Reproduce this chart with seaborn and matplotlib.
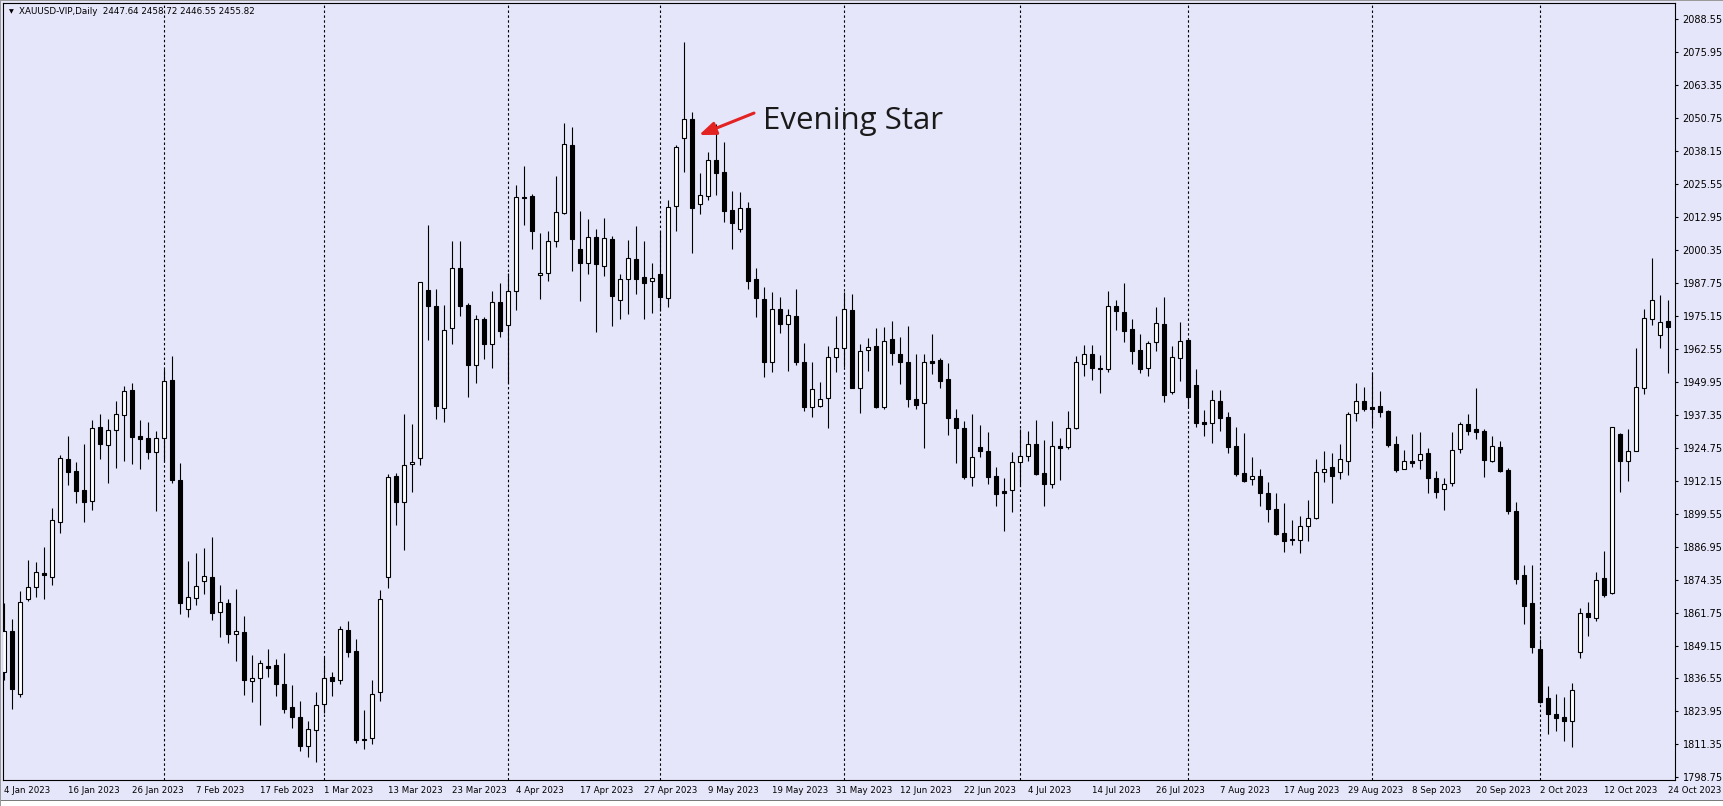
import numpy as np
import pandas as pd
import matplotlib
matplotlib.use("Agg")
import matplotlib.pyplot as plt
from matplotlib.patches import Rectangle
import seaborn as sns

# daily XAUUSD candles, 4 Jan 2023 - 24 Oct 2023
opens = [
    1839.2, 1854.7, 1830.5, 1866.8, 1871.4, 1876.7, 1875.2, 1896.2, 1920.3, 1915.8,
    1908.6, 1904.5, 1932.5, 1925.7, 1931.4, 1937.1, 1946.7, 1929.1, 1928.3, 1923.0,
    1928.3, 1950.5, 1912.4, 1863.0, 1867.2, 1873.7, 1875.2, 1862.1, 1865.3, 1853.4,
    1854.2, 1835.7, 1836.6, 1841.2, 1841.7, 1834.5, 1825.5, 1821.7, 1810.6, 1816.7,
    1826.7, 1837.0, 1835.8, 1855.0, 1847.1, 1813.6, 1813.7, 1831.4, 1875.3, 1913.8,
    1904.1, 1918.4, 1920.8, 1985.0, 1978.8, 1939.8, 1970.4, 1993.3, 1979.3, 1956.5,
    1973.9, 1964.2, 1980.3, 1971.5, 1984.5, 2020.4, 2020.9, 1990.6, 1991.4, 2003.6,
    2014.6, 2040.3, 2000.7, 1995.2, 2005.1, 1994.0, 2004.4, 1981.2, 1989.1, 1996.7,
    1989.8, 1988.3, 1991.0, 1981.8, 2017.2, 2043.0, 2050.2, 2017.7, 2021.1, 2034.6,
    2030.1, 2015.6, 2008.2, 2016.2, 1989.1, 1981.6, 1957.6, 1977.6, 1971.9, 1975.0,
    1957.4, 1940.4, 1940.8, 1943.6, 1959.3, 1962.7, 1977.2, 1947.4, 1962.0, 1963.5,
    1940.4, 1966.2, 1960.4, 1957.4, 1943.2, 1941.7, 1957.7, 1958.3, 1951.0, 1936.0,
    1932.3, 1913.7, 1924.9, 1923.5, 1913.9, 1908.1, 1908.4, 1919.2, 1921.4, 1926.0,
    1914.9, 1911.0, 1925.2, 1925.0, 1932.2, 1956.9, 1960.4, 1955.0, 1954.7, 1978.9,
    1976.6, 1970.0, 1962.1, 1955.1, 1965.0, 1972.0, 1946.1, 1958.9, 1965.9, 1948.7,
    1934.7, 1934.0, 1942.6, 1936.6, 1925.4, 1915.1, 1912.6, 1913.8, 1907.3, 1901.3,
    1892.0, 1890.0, 1889.5, 1894.7, 1897.7, 1915.3, 1917.2, 1915.6, 1919.8, 1937.9,
    1942.4, 1940.2, 1940.5, 1938.8, 1926.0, 1916.7, 1919.5, 1919.9, 1922.9, 1913.0,
    1908.8, 1911.1, 1924.1, 1933.7, 1931.9, 1931.1, 1919.8, 1925.1, 1916.2, 1900.5,
    1876.1, 1865.4, 1847.8, 1829.0, 1823.0, 1821.7, 1820.4, 1846.5, 1861.4, 1859.8,
    1874.8, 1869.1, 1930.0, 1919.8, 1923.6, 1947.4, 1973.8, 1967.7, 1973.1]

highs = [
    1865.3, 1859.2, 1870.1, 1881.8, 1881.1, 1886.8, 1901.6, 1922.0, 1929.1, 1919.2,
    1926.2, 1935.3, 1937.6, 1935.7, 1942.6, 1948.3, 1949.5, 1935.3, 1934.6, 1931.1,
    1954.7, 1959.9, 1918.8, 1881.5, 1884.5, 1886.3, 1890.6, 1872.2, 1866.9, 1870.8,
    1860.4, 1845.5, 1843.6, 1847.8, 1843.9, 1846.3, 1834.1, 1828.0, 1820.3, 1831.5,
    1844.6, 1839.0, 1856.6, 1858.5, 1851.5, 1824.6, 1835.8, 1870.2, 1914.5, 1915.0,
    1937.6, 1933.8, 1988.2, 2009.8, 1985.4, 1979.3, 2003.6, 2003.6, 1979.9, 1975.5,
    1974.7, 1984.7, 1987.6, 1991.4, 2025.2, 2032.4, 2021.7, 2006.8, 2007.6, 2028.7,
    2048.7, 2047.4, 2015.2, 2012.1, 2008.2, 2012.5, 2005.6, 1991.0, 2004.1, 2009.4,
    2003.7, 1995.3, 2007.6, 2019.3, 2040.4, 2079.9, 2053.2, 2029.6, 2037.6, 2048.3,
    2041.4, 2022.8, 2022.3, 2018.5, 1993.3, 1986.0, 1984.3, 1982.5, 1977.8, 1985.4,
    1964.6, 1957.4, 1949.9, 1963.5, 1975.1, 1984.4, 1983.5, 1964.3, 1966.5, 1970.4,
    1970.8, 1973.2, 1966.9, 1971.3, 1960.4, 1960.4, 1968.2, 1958.9, 1957.1, 1939.5,
    1935.0, 1937.6, 1933.4, 1930.9, 1917.5, 1913.0, 1923.0, 1931.9, 1931.2, 1935.3,
    1927.8, 1935.1, 1928.4, 1938.9, 1959.8, 1964.0, 1964.0, 1960.2, 1984.6, 1981.2,
    1987.5, 1973.8, 1968.0, 1965.6, 1978.5, 1982.3, 1963.6, 1972.8, 1966.3, 1954.8,
    1939.1, 1946.8, 1946.8, 1938.3, 1932.8, 1930.2, 1921.0, 1916.5, 1911.5, 1907.3,
    1903.5, 1897.0, 1898.7, 1904.7, 1920.4, 1923.5, 1922.8, 1926.2, 1938.5, 1949.5,
    1947.8, 1953.1, 1946.3, 1939.0, 1929.2, 1923.8, 1929.9, 1930.7, 1924.5, 1915.8,
    1913.0, 1930.7, 1934.4, 1937.6, 1947.5, 1931.7, 1929.2, 1927.3, 1916.9, 1904.0,
    1879.9, 1879.9, 1851.5, 1833.7, 1830.6, 1829.6, 1834.8, 1863.4, 1865.8, 1877.1,
    1885.3, 1932.5, 1930.4, 1931.8, 1963.0, 1977.7, 1997.3, 1983.1, 1981.2]

lows = [
    1836.0, 1825.0, 1829.5, 1866.3, 1867.8, 1867.1, 1872.3, 1892.3, 1910.5, 1903.7,
    1896.5, 1900.9, 1920.4, 1911.4, 1917.1, 1919.8, 1918.6, 1916.7, 1920.6, 1900.7,
    1919.4, 1911.4, 1861.2, 1860.2, 1864.6, 1868.8, 1858.9, 1852.5, 1850.2, 1843.4,
    1830.4, 1827.7, 1818.8, 1837.3, 1830.0, 1823.5, 1817.5, 1809.0, 1806.4, 1804.8,
    1823.2, 1830.0, 1834.5, 1844.9, 1812.0, 1809.5, 1811.7, 1827.8, 1871.2, 1895.3,
    1885.5, 1907.8, 1918.3, 1965.7, 1935.7, 1934.4, 1964.5, 1975.2, 1944.0, 1949.4,
    1958.8, 1955.3, 1967.0, 1949.4, 1977.2, 2010.0, 2000.8, 1981.7, 1988.6, 2001.3,
    2014.0, 1992.4, 1980.9, 1991.2, 1969.1, 1990.5, 1971.4, 1974.0, 1976.0, 1983.3,
    1974.0, 1976.1, 1977.0, 1978.4, 2007.6, 2030.1, 1999.3, 2014.2, 2019.4, 2021.3,
    2011.1, 2000.8, 2007.3, 1985.4, 1974.8, 1951.9, 1953.8, 1968.7, 1954.2, 1956.4,
    1938.9, 1936.6, 1940.1, 1932.2, 1953.6, 1955.7, 1947.4, 1938.1, 1954.2, 1939.8,
    1939.7, 1956.4, 1949.1, 1940.1, 1939.5, 1924.7, 1952.9, 1947.7, 1929.6, 1919.0,
    1912.7, 1910.2, 1921.2, 1910.9, 1902.6, 1892.9, 1900.3, 1910.2, 1919.8, 1914.2,
    1902.6, 1909.5, 1912.4, 1924.2, 1931.9, 1952.1, 1950.6, 1945.8, 1953.8, 1969.7,
    1965.2, 1956.7, 1953.4, 1952.1, 1961.7, 1942.3, 1945.3, 1950.2, 1940.4, 1932.8,
    1929.3, 1926.7, 1931.2, 1922.8, 1914.0, 1911.8, 1910.5, 1902.4, 1896.5, 1891.4,
    1885.0, 1887.5, 1884.6, 1889.2, 1897.4, 1911.8, 1903.7, 1912.9, 1914.3, 1935.1,
    1938.9, 1933.2, 1936.6, 1925.1, 1915.3, 1916.5, 1917.2, 1916.6, 1907.5, 1905.6,
    1901.0, 1910.1, 1922.6, 1929.7, 1928.0, 1913.7, 1919.4, 1915.3, 1899.3, 1872.5,
    1857.5, 1846.2, 1827.0, 1815.2, 1816.6, 1812.8, 1810.5, 1844.2, 1852.8, 1858.6,
    1867.8, 1868.7, 1907.9, 1912.0, 1923.3, 1945.1, 1971.6, 1963.0, 1953.4]

closes = [
    1854.7, 1832.5, 1865.9, 1871.6, 1877.1, 1876.0, 1897.0, 1920.7, 1915.6, 1908.3,
    1904.1, 1932.1, 1926.3, 1931.4, 1937.5, 1946.3, 1929.0, 1928.2, 1923.2, 1928.3,
    1950.1, 1912.4, 1865.5, 1867.6, 1871.8, 1875.6, 1861.7, 1865.7, 1853.6, 1854.6,
    1836.1, 1836.6, 1842.5, 1840.7, 1834.6, 1824.9, 1822.0, 1810.9, 1817.1, 1826.3,
    1836.6, 1835.7, 1855.4, 1846.8, 1813.1, 1813.1, 1830.8, 1867.1, 1913.5, 1904.1,
    1918.3, 1919.2, 1987.9, 1978.8, 1940.5, 1969.6, 1993.3, 1978.8, 1956.2, 1973.9,
    1964.5, 1980.3, 1969.2, 1984.5, 2020.5, 2020.3, 2007.7, 1991.4, 2003.6, 2014.7,
    2040.7, 2004.4, 1995.2, 2005.1, 1994.8, 2004.7, 1982.8, 1989.1, 1997.1, 1989.1,
    1987.8, 1989.6, 1982.5, 2016.6, 2039.7, 2050.2, 2016.5, 2021.3, 2034.6, 2029.6,
    2015.0, 2010.7, 2016.2, 1988.6, 1982.1, 1957.3, 1977.6, 1971.9, 1975.3, 1957.3,
    1940.4, 1947.1, 1943.2, 1959.3, 1962.7, 1977.6, 1947.7, 1961.6, 1963.1, 1940.1,
    1965.5, 1960.8, 1957.3, 1943.5, 1941.2, 1957.6, 1957.2, 1950.4, 1936.2, 1932.4,
    1913.7, 1921.0, 1923.4, 1913.7, 1907.2, 1907.6, 1919.2, 1921.4, 1926.0, 1914.8,
    1911.0, 1925.2, 1924.7, 1932.4, 1957.4, 1960.4, 1955.3, 1954.8, 1978.9, 1977.1,
    1969.4, 1961.8, 1954.7, 1964.6, 1972.3, 1944.9, 1959.3, 1965.5, 1944.2, 1934.3,
    1933.9, 1943.0, 1936.2, 1925.1, 1914.7, 1912.1, 1913.8, 1907.5, 1901.4, 1891.7,
    1889.2, 1889.5, 1894.7, 1897.7, 1915.3, 1916.7, 1914.0, 1920.3, 1937.6, 1942.4,
    1939.7, 1939.7, 1938.5, 1925.8, 1916.3, 1919.5, 1919.0, 1922.2, 1913.3, 1907.9,
    1910.7, 1923.7, 1933.7, 1931.3, 1930.6, 1919.9, 1925.4, 1915.8, 1900.7, 1874.6,
    1864.4, 1848.7, 1827.7, 1823.0, 1821.3, 1820.4, 1832.0, 1861.4, 1860.2, 1874.1,
    1868.6, 1932.5, 1919.6, 1923.3, 1947.8, 1974.2, 1981.0, 1972.6, 1971.0]

# trading days on the chart (Good Friday has no bar)
dates = pd.bdate_range("2023-01-04", "2023-10-24").drop(pd.Timestamp("2023-04-07"))

x_labels = ["4 Jan 2023", "16 Jan 2023", "26 Jan 2023", "7 Feb 2023", "17 Feb 2023",
            "1 Mar 2023", "13 Mar 2023", "23 Mar 2023", "4 Apr 2023", "17 Apr 2023",
            "27 Apr 2023", "9 May 2023", "19 May 2023", "31 May 2023", "12 Jun 2023",
            "22 Jun 2023", "4 Jul 2023", "14 Jul 2023", "26 Jul 2023", "7 Aug 2023",
            "17 Aug 2023", "29 Aug 2023", "8 Sep 2023", "20 Sep 2023", "2 Oct 2023",
            "12 Oct 2023", "24 Oct 2023"]

y_ticks = [1798.75, 1811.35, 1823.95, 1836.55, 1849.15, 1861.75, 1874.35, 1886.95,
           1899.55, 1912.15, 1924.75, 1937.35, 1949.95, 1962.55, 1975.15, 1987.75,
           2000.35, 2012.95, 2025.55, 2038.15, 2050.75, 2063.35, 2075.95, 2088.55]

header = "XAUUSD-VIP,Daily  2447.64 2458.72 2446.55 2455.82"

df = pd.DataFrame({"date": dates, "open": opens, "high": highs,
                   "low": lows, "close": closes})
df["pos"] = np.arange(len(df))
df["bull"] = df["close"] >= df["open"]
df["body_lo"] = df[["open", "close"]].min(axis=1)
df["body_h"] = (df["close"] - df["open"]).abs().clip(lower=0.3)

bg = "#E6E6FA"
sns.set_theme(style="white")
plt.rcParams["font.family"] = ["DejaVu Sans"]

W, H = 1723, 806
fig = plt.figure(figsize=(W / 100, H / 100), dpi=100, facecolor=bg)
ax = fig.add_axes([3 / W, 26 / H, 1672 / W, 777 / H])
ax.set_facecolor(bg)

# month separators
month_first = df.groupby(df["date"].dt.month)["pos"].min().values[1:]
for m in month_first:
    ax.axvline(m, color="black", lw=0.8, ls=(0, (2.2, 2.2)), zorder=1)

# wicks then bodies
ax.vlines(df["pos"], df["low"], df["high"], color="black", lw=0.8, zorder=2)
ax.bar(df["pos"], df["body_h"], bottom=df["body_lo"], width=0.5,
       color=np.where(df["bull"], "white", "black"), edgecolor="black",
       linewidth=0.8, zorder=3)

ax.set_xlim(-0.125, 208.875)
ax.set_ylim(1797.76, 2094.66)

ax.set_xticks(np.arange(0, len(df), 8))
ax.set_xticklabels(x_labels, ha="left")
ax.set_yticks(y_ticks)
ax.set_yticklabels([f"{v:.2f}" for v in y_ticks])
ax.yaxis.tick_right()
ax.tick_params(axis="y", direction="out", length=2.5, width=0.8, pad=3,
               labelsize=7, colors="black")
ax.tick_params(axis="x", direction="out", length=2.5, width=0.8, pad=1.5,
               labelsize=6.2, colors="black")
for s in ax.spines.values():
    s.set_color("black")
    s.set_linewidth(0.8)

# annotation
red = "#E32222"
ax.annotate("", xy=(86.875, 2044.2), xytext=(93.75, 2052.6),
            arrowprops=dict(arrowstyle="-|>,head_length=0.9,head_width=0.35",
                            color=red, lw=2.2, mutation_scale=11,
                            shrinkA=0, shrinkB=0), zorder=5)
ax.text(94.875, 2046.7, "Evening Star", fontsize=22.5, family="Open Sans",
        color="#1a1a1a", va="baseline", ha="left", zorder=5)

# header line
fig.text(9 / W, 1 - 12 / H, "\u25bc", fontsize=4.5, va="center", color="black")
fig.text(19 / W, 1 - 12 / H, header, fontsize=6.3, va="center", color="black")

# window frame bits
fig.patches.append(Rectangle((0, 0), 1, 5 / H, transform=fig.transFigure,
                             facecolor="white", edgecolor="none"))
fig.patches.append(Rectangle((0, 5 / H), 1, 1.2 / H, transform=fig.transFigure,
                             facecolor="#7a7a7a", edgecolor="none"))
fig.patches.append(Rectangle((0, 0), 1.2 / W, 1, transform=fig.transFigure,
                             facecolor="#9a9a9a", edgecolor="none"))
fig.patches.append(Rectangle((0, 1 - 1.2 / H), 1, 1.2 / H, transform=fig.transFigure,
                             facecolor="#9a9a9a", edgecolor="none"))

fig.savefig("out.png", dpi=100, facecolor=bg)
